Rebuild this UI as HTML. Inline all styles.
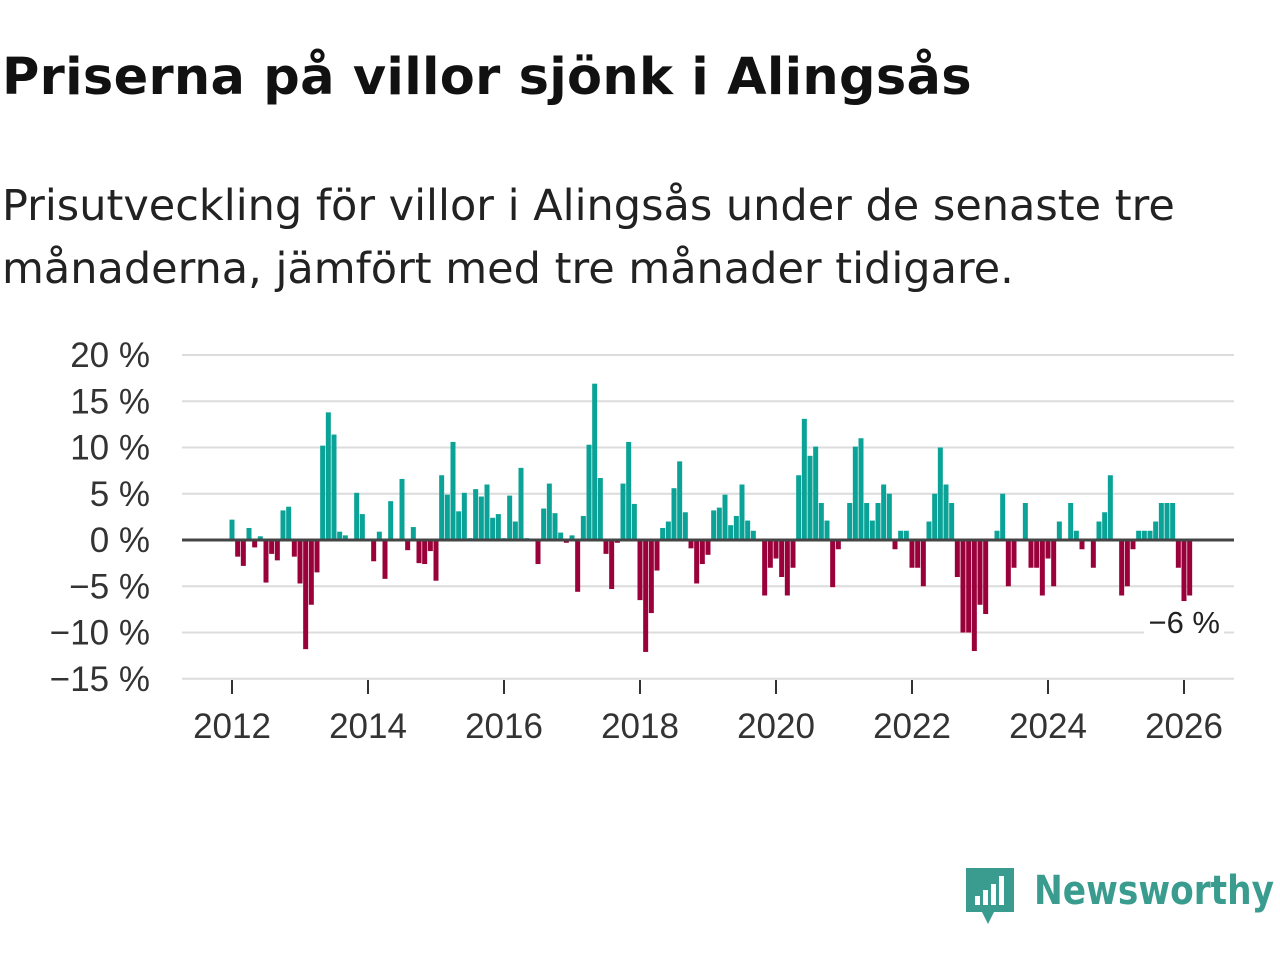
<!DOCTYPE html>
<html><head><meta charset="utf-8"><style>
body{margin:0;width:1280px;height:960px;background:#fff;overflow:hidden;font-family:"Liberation Sans",sans-serif;}
#title{position:absolute;left:2px;top:48px;font-family:"DejaVu Sans",sans-serif;font-size:51px;font-weight:bold;color:#111;margin:0;white-space:nowrap;letter-spacing:0.3px}
#sub{position:absolute;left:2px;top:175px;font-family:"DejaVu Sans",sans-serif;font-size:43px;line-height:63px;color:#222;margin:0;white-space:nowrap}
svg{position:absolute;left:0;top:0}
</style></head><body>
<h1 id="title">Priserna på villor sjönk i Alingsås</h1>
<p id="sub">Prisutveckling för villor i Alingsås under de senaste tre<br>månaderna, jämfört med tre månader tidigare.</p>
<svg id="chart" width="1280" height="960"></svg>
<script>
const values = [2.2,-1.8,-2.8,1.3,-0.8,0.4,-4.6,-1.5,-2.2,3.2,3.6,-1.8,-4.7,-11.8,-7.0,-3.5,10.2,13.8,11.4,0.9,0.5,0,5.1,2.8,0,-2.3,0.9,-4.2,4.2,0,6.6,-1.1,1.4,-2.5,-2.6,-1.2,-4.4,
7.0,4.9,10.6,3.1,5.1,0.2,5.5,4.7,6.0,2.4,2.8,0.2,4.8,2.0,7.8,
0.2,0,-2.6,3.4,6.1,2.9,0.8,-0.3,0.5,-5.6,2.6,10.3,16.9,6.7,-1.5,-5.3,-0.3,6.1,10.6,3.9,-6.5,-12.1,-7.9,-3.3,1.3,2.0,5.6,8.5,3.0,-0.9,-4.7,-2.6,-1.6,3.2,3.5,4.9,1.6,2.6,6.0,2.1,1.0,0,-6.0,-3.0,-2.0,-4.0,-6.0,-3.0,7.0,13.1,9.1,10.1,4.0,2.1,-5.1,-1.0,0,4.0,10.1,11.0,4.0,
2.1,4.0,6.0,5.0,-1.0,1.0,1.0,-3.0,-3.0,-5.0,2.0,5.0,10.0,6.0,4.0,-4.0,-10.0,-10.0,-12.0,-7.0,-8.0,0,1.0,5.0,-5.0,-3.0,0,4.0,-3.0,-3.0,-6.0,-2.0,-5.0,2.0,0,4.0,1.0,-1.0,0,-3.0,2.0,3.0,7.0,0,-6.0,-5.0,-1.0,1.0,1.0,1.0,2.0,4.0,4.0,4.0,-3.0,-6.6,-6.0];
const yTicks = [20,15,10,5,0,-5,-10,-15];
const xYears = [2012,2014,2016,2018,2020,2022,2024,2026];
const startYear = 2012;
const lastLabel = "−6 %";

const svg = document.getElementById('chart');
const NS = 'http://www.w3.org/2000/svg';
const y = v => 540 - v * 9.25;
const x = yr => 232 + (yr - startYear) * 68;
function mk(tag, attrs, txt){const e=document.createElementNS(NS,tag);for(const k in attrs)e.setAttribute(k,attrs[k]);if(txt!==undefined)e.textContent=txt;svg.appendChild(e);return e;}

yTicks.forEach(t=>{
  if(t!==0){const g=mk('line',{x1:182,x2:1234,y1:y(t),y2:y(t),stroke:'#dcdcdc','stroke-width':2});
  
  }
  const l=mk('text',{x:150,y:y(t)+12,'text-anchor':'end','font-size':35,fill:'#333','font-family':'Liberation Sans, sans-serif'},(t<0?'−'+(-t):t)+' %');
  
  
});
values.forEach((v,i)=>{
  const cx = x(startYear + i/12);
  const b=mk('rect',{x:cx-2.5,y:Math.min(y(v),540),width:5,height:Math.abs(y(v)-540),fill:v>=0?'#0ba397':'#9a0039'});
  
  
});
const z=mk('line',{x1:182,x2:1234,y1:540,y2:540,stroke:'#444','stroke-width':3});


xYears.forEach(yr=>{
  const t=mk('line',{x1:x(yr),x2:x(yr),y1:680,y2:694,stroke:'#333','stroke-width':2});
  
  
  const l=mk('text',{x:x(yr),y:738,'text-anchor':'middle','font-size':35,fill:'#333','font-family':'Liberation Sans, sans-serif'},yr);
  
  
});
const bg=mk('rect',{x:1144,y:604,width:80,height:36,fill:'#fff'});


const ann=mk('text',{x:1220,y:633,'text-anchor':'end','font-size':31,fill:'#222','font-family':'Liberation Sans, sans-serif'},lastLabel);


</script>
<svg width="1280" height="960" style="position:absolute;left:0;top:0;pointer-events:none">
  <path d="M966 868 h48 v44 h-20 l-6 12 l-6 -12 h-16 z" fill="#3a9c8e"/>
  <rect x="975" y="896" width="5" height="9" fill="#fff"/>
  <rect x="983" y="890" width="5" height="15" fill="#fff"/>
  <rect x="991" y="884" width="5" height="21" fill="#fff"/>
  <rect x="999" y="876" width="5" height="29" fill="#fff"/>
  <text x="1034" y="904" font-size="40" font-weight="bold" fill="#3a9c8e" font-family="DejaVu Sans, sans-serif" textLength="240" lengthAdjust="spacingAndGlyphs">Newsworthy</text>
</svg>
</body></html>
